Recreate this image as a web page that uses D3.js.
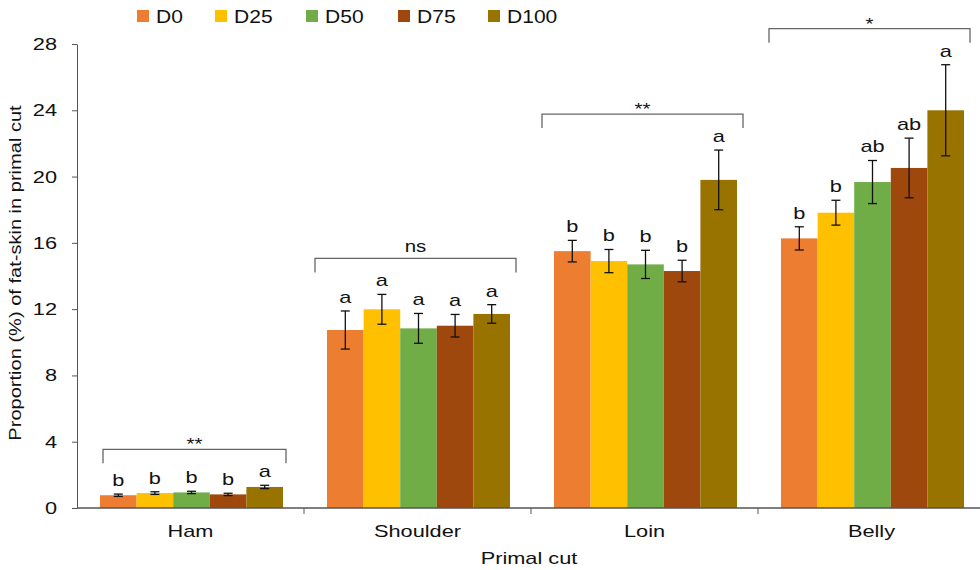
<!DOCTYPE html>
<html>
<head>
<meta charset="utf-8">
<script src="https://cdn.jsdelivr.net/npm/d3@7"></script>
<style>
  body { margin: 0; background: #fff; }
  svg { display: block; font-family: "Liberation Sans", Arial, sans-serif; }
</style>
</head>
<body>
<svg id="chart" width="980" height="570"></svg>
<script>
const categories = ["Ham", "Shoulder", "Loin", "Belly"];
const seriesNames = ["D0", "D25", "D50", "D75", "D100"];
const seriesColors = ["#ED7D31", "#FFC000", "#70AD47", "#9E480E", "#997300"];
// means per category, in series order
const D0 = [0.77, 10.74, 15.5, 16.27];
const D25 = [0.9, 11.99, 14.9, 17.82];
const D50 = [0.94, 10.84, 14.7, 19.67];
const D75 = [0.82, 11.0, 14.3, 20.52];
const D100 = [1.27, 11.71, 19.8, 24.0];
// standard errors
const errD0 = [0.07, 1.15, 0.65, 0.7];
const errD25 = [0.08, 0.9, 0.7, 0.75];
const errD50 = [0.07, 0.9, 0.85, 1.3];
const errD75 = [0.07, 0.68, 0.65, 1.8];
const errD100 = [0.1, 0.56, 1.8, 2.75];
// letters
const letD0 = ["b", "a", "b", "b"];
const letD25 = ["b", "a", "b", "b"];
const letD50 = ["b", "a", "b", "ab"];
const letD75 = ["b", "a", "b", "ab"];
const letD100 = ["a", "a", "a", "a"];
const significance = ["**", "ns", "**", "*"];
const yTicks = [0, 4, 8, 12, 16, 20, 24, 28];

const means = [D0, D25, D50, D75, D100];
const errs = [errD0, errD25, errD50, errD75, errD100];
const letters = [letD0, letD25, letD50, letD75, letD100];

const SX = 1.28; // horizontal stretch of the original's text
const svg = d3.select("#chart");
const x0 = d3.scaleBand().domain(categories).range([77, 985]).padding(0);
const x1 = d3.scaleBand().domain(seriesNames).range([23, 206]).padding(0);
const y = d3.scaleLinear().domain([0, 28]).range([508, 44]);

function stext(g, x, yy, str, size, anchor, sx) {
  return g.append("text")
    .attr("transform", `translate(${x},${yy}) scale(${sx === undefined ? SX : sx},1)`)
    .attr("text-anchor", anchor || "middle")
    .attr("font-size", size)
    .attr("fill", "#111")
    .text(str);
}

const rows = [];
categories.forEach((c, ci) => {
  seriesNames.forEach((s, si) => {
    rows.push({cat: c, ci, series: s, si, v: means[si][ci], e: errs[si][ci], l: letters[si][ci]});
  });
});

// bars
svg.append("g").selectAll("rect").data(rows).join("rect")
  .attr("x", d => x0(d.cat) + x1(d.series))
  .attr("y", d => y(d.v))
  .attr("width", x1.bandwidth())
  .attr("height", d => y(0) - y(d.v))
  .attr("fill", d => seriesColors[d.si]);

// error bars
const eg = svg.append("g").attr("stroke", "#111").attr("stroke-width", 1.3);
rows.forEach(d => {
  const cx = x0(d.cat) + x1(d.series) + x1.bandwidth() / 2;
  const y1 = y(d.v + d.e), y2 = y(d.v - d.e);
  eg.append("line").attr("x1", cx).attr("x2", cx).attr("y1", y1).attr("y2", y2);
  eg.append("line").attr("x1", cx - 4.5).attr("x2", cx + 4.5).attr("y1", y1).attr("y2", y1);
  eg.append("line").attr("x1", cx - 4.5).attr("x2", cx + 4.5).attr("y1", y2).attr("y2", y2);
});

// letters
const lt = svg.append("g");
rows.forEach(d => {
  stext(lt, x0(d.cat) + x1(d.series) + x1.bandwidth() / 2, y(d.v + d.e) - 8, d.l, 17);
});

// brackets
const bg = svg.append("g");
categories.forEach((c, ci) => {
  const top = d3.max(seriesNames.map((s, si) => means[si][ci] + errs[si][ci]));
  const by = y(top) - 36;
  const xa = x0(c) + (ci === 0 ? 26 : 11), xb = x0(c) + (ci === 0 ? 209 : 212);
  bg.append("path")
    .attr("d", `M${xa},${by + 14}V${by}H${xb}V${by + 14}`)
    .attr("fill", "none").attr("stroke", "#666").attr("stroke-width", 1.3);
  const isNs = significance[ci] === "ns";
  stext(bg, (xa + xb) / 2, isNs ? by - 6 : by + 1, significance[ci], isNs ? 16 : 16);
});

// y axis
const ya = svg.append("g").attr("transform", "translate(77,0)")
  .call(d3.axisLeft(y).tickValues(yTicks).tickSize(5).tickSizeOuter(0).tickFormat(""));
ya.select(".domain").attr("stroke", "#555");
ya.selectAll(".tick line").attr("stroke", "#555");
const yl = svg.append("g");
yTicks.forEach(t => stext(yl, 57, y(t) + 6, String(t), 17, "end"));

// x axis
const xa = svg.append("g").attr("transform", "translate(0,508)");
xa.append("line").attr("x1", 77).attr("x2", 985).attr("y1", 0).attr("y2", 0).attr("stroke", "#555").attr("stroke-width", 1.3);
categories.slice(1).forEach(c => {
  xa.append("line").attr("x1", x0(c)).attr("x2", x0(c)).attr("y1", 0).attr("y2", 6).attr("stroke", "#555");
});
categories.forEach(c => stext(xa, x0(c) + x0.bandwidth() / 2, 29, c, 17));

stext(svg, 529, 564, "Primal cut", 17);

svg.append("text")
  .attr("transform", "translate(21,273) rotate(-90) scale(1.18,1)")
  .attr("text-anchor", "middle")
  .attr("font-size", 17).attr("fill", "#111")
  .text("Proportion (%) of fat-skin in primal cut");

// legend
const legX = [137, 215, 306, 398, 488];
const lg = svg.append("g");
seriesNames.forEach((s, i) => {
  lg.append("rect").attr("x", legX[i]).attr("y", 10).attr("width", 12).attr("height", 12).attr("fill", seriesColors[i]);
  stext(lg, legX[i] + 19, 23, s, 18, "start", 1.17);
});
</script>
</body>
</html>
